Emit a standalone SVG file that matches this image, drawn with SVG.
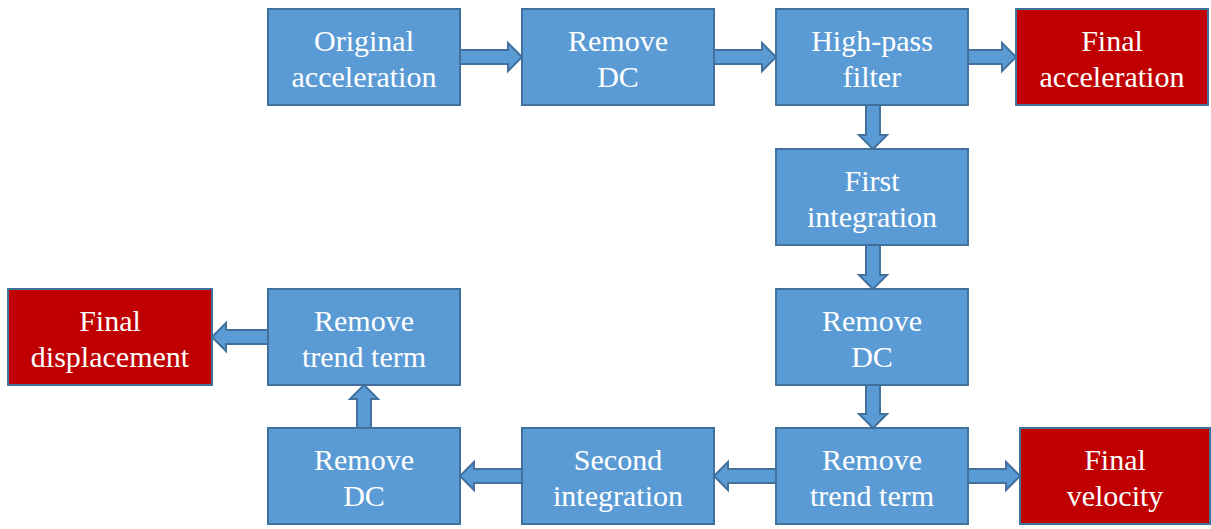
<svg xmlns="http://www.w3.org/2000/svg" width="1211" height="529" viewBox="0 0 1211 529">
<style>
.b{fill:#5B9BD5;stroke:#41719C;stroke-width:2}
.r{fill:#C00000;stroke:#41719C;stroke-width:2}
.a{fill:#5B9BD5;stroke:#41719C;stroke-width:2;stroke-linejoin:miter}
</style>
<rect width="1211" height="529" fill="#fff"/>
<g id="n1"><rect class="b" x="268" y="9" width="192" height="96"/><text style="font-family:'Liberation Serif',serif;font-size:30px" fill="#fff" text-anchor="middle" x="364" y="51">Original</text><text style="font-family:'Liberation Serif',serif;font-size:30px" fill="#fff" text-anchor="middle" x="364" y="87">acceleration</text></g>
<g id="n2"><rect class="b" x="522" y="9" width="192" height="96"/><text style="font-family:'Liberation Serif',serif;font-size:30px" fill="#fff" text-anchor="middle" x="618" y="51">Remove</text><text style="font-family:'Liberation Serif',serif;font-size:30px" fill="#fff" text-anchor="middle" x="618" y="87">DC</text></g>
<g id="n3"><rect class="b" x="776" y="9" width="192" height="96"/><text style="font-family:'Liberation Serif',serif;font-size:30px" fill="#fff" text-anchor="middle" x="872" y="51">High-pass</text><text style="font-family:'Liberation Serif',serif;font-size:30px" fill="#fff" text-anchor="middle" x="872" y="87">filter</text></g>
<g id="n4"><rect class="r" x="1016" y="9" width="192" height="96"/><text style="font-family:'Liberation Serif',serif;font-size:30px" fill="#fff" text-anchor="middle" x="1112" y="51">Final</text><text style="font-family:'Liberation Serif',serif;font-size:30px" fill="#fff" text-anchor="middle" x="1112" y="87">acceleration</text></g>
<g id="n5"><rect class="b" x="776" y="149" width="192" height="96"/><text style="font-family:'Liberation Serif',serif;font-size:30px" fill="#fff" text-anchor="middle" x="872" y="191">First</text><text style="font-family:'Liberation Serif',serif;font-size:30px" fill="#fff" text-anchor="middle" x="872" y="227">integration</text></g>
<g id="n6"><rect class="b" x="776" y="289" width="192" height="96"/><text style="font-family:'Liberation Serif',serif;font-size:30px" fill="#fff" text-anchor="middle" x="872" y="331">Remove</text><text style="font-family:'Liberation Serif',serif;font-size:30px" fill="#fff" text-anchor="middle" x="872" y="367">DC</text></g>
<g id="n7"><rect class="b" x="776" y="428" width="192" height="96"/><text style="font-family:'Liberation Serif',serif;font-size:30px" fill="#fff" text-anchor="middle" x="872" y="470">Remove</text><text style="font-family:'Liberation Serif',serif;font-size:30px" fill="#fff" text-anchor="middle" x="872" y="506">trend term</text></g>
<g id="n8"><rect class="r" x="1020" y="428" width="190" height="96"/><text style="font-family:'Liberation Serif',serif;font-size:30px" fill="#fff" text-anchor="middle" x="1115" y="470">Final</text><text style="font-family:'Liberation Serif',serif;font-size:30px" fill="#fff" text-anchor="middle" x="1115" y="506">velocity</text></g>
<g id="n9"><rect class="b" x="522" y="428" width="192" height="96"/><text style="font-family:'Liberation Serif',serif;font-size:30px" fill="#fff" text-anchor="middle" x="618" y="470">Second</text><text style="font-family:'Liberation Serif',serif;font-size:30px" fill="#fff" text-anchor="middle" x="618" y="506">integration</text></g>
<g id="n10"><rect class="b" x="268" y="428" width="192" height="96"/><text style="font-family:'Liberation Serif',serif;font-size:30px" fill="#fff" text-anchor="middle" x="364" y="470">Remove</text><text style="font-family:'Liberation Serif',serif;font-size:30px" fill="#fff" text-anchor="middle" x="364" y="506">DC</text></g>
<g id="n11"><rect class="b" x="268" y="289" width="192" height="96"/><text style="font-family:'Liberation Serif',serif;font-size:30px" fill="#fff" text-anchor="middle" x="364" y="331">Remove</text><text style="font-family:'Liberation Serif',serif;font-size:30px" fill="#fff" text-anchor="middle" x="364" y="367">trend term</text></g>
<g id="n12"><rect class="r" x="8" y="289" width="204" height="96"/><text style="font-family:'Liberation Serif',serif;font-size:30px" fill="#fff" text-anchor="middle" x="110" y="331">Final</text><text style="font-family:'Liberation Serif',serif;font-size:30px" fill="#fff" text-anchor="middle" x="110" y="367">displacement</text></g>
<g id="connectors">
<polygon class="a" points="460,50 508,50 508,43 522,57 508,71 508,64 460,64"/>
<polygon class="a" points="714,50 762,50 762,43 776,57 762,71 762,64 714,64"/>
<polygon class="a" points="968,50 1002,50 1002,43 1016,57 1002,71 1002,64 968,64"/>
<polygon class="a" points="866,105 866,135 859,135 873,149 887,135 880,135 880,105"/>
<polygon class="a" points="866,245 866,275 859,275 873,289 887,275 880,275 880,245"/>
<polygon class="a" points="866,385 866,414 859,414 873,428 887,414 880,414 880,385"/>
<polygon class="a" points="968,469 1006,469 1006,462 1020,476 1006,490 1006,483 968,483"/>
<polygon class="a" points="776,469 728,469 728,462 714,476 728,490 728,483 776,483"/>
<polygon class="a" points="522,469 474,469 474,462 460,476 474,490 474,483 522,483"/>
<polygon class="a" points="357,428 357,399 350,399 364,385 378,399 371,399 371,428"/>
<polygon class="a" points="268,330 226,330 226,323 212,337 226,351 226,344 268,344"/>
</g>
</svg>
